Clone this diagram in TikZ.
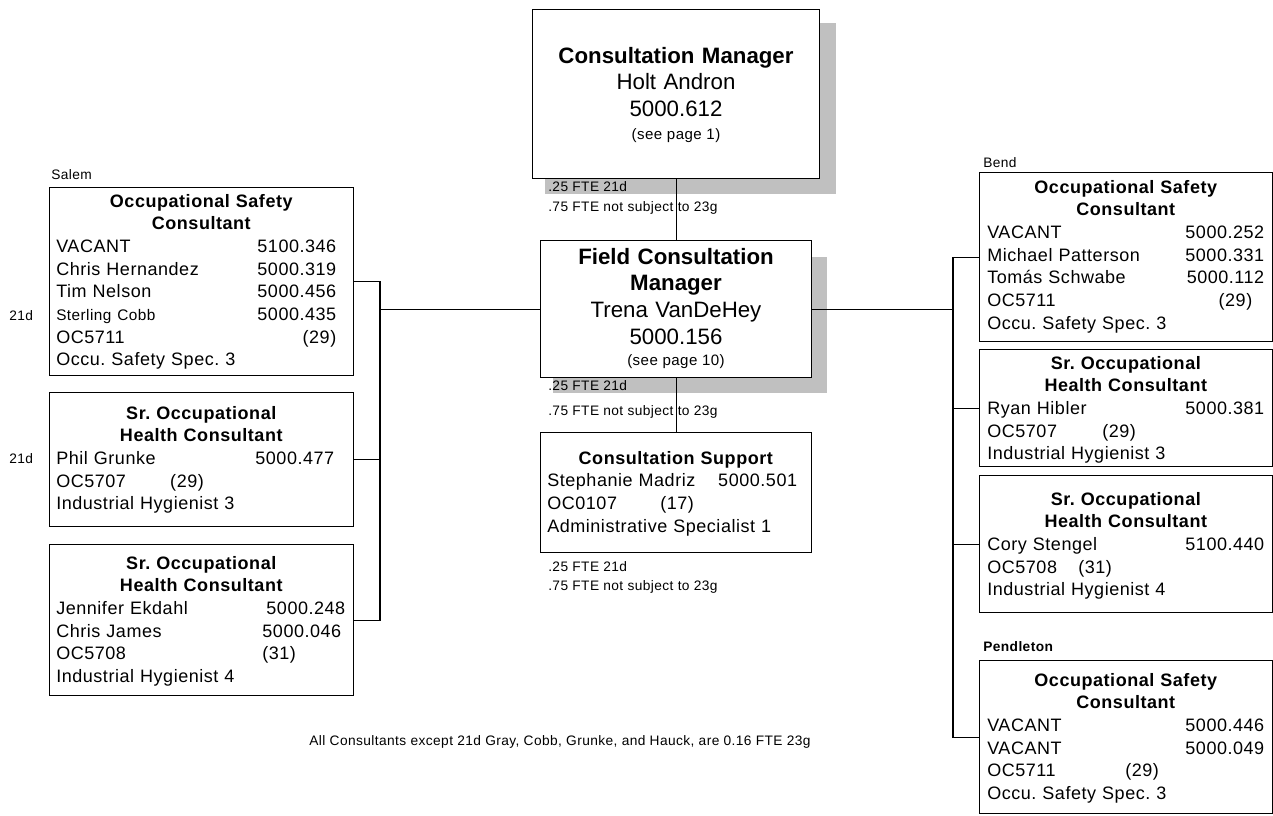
\documentclass[tikz,border=0pt]{standalone}
\usepackage{fontspec}
\setmainfont{Liberation Sans}[LetterSpace=3]
\newfontfamily\bigf{Liberation Sans}
\newfontfamily\smallf{Liberation Sans}[LetterSpace=3]
\newdimen\px \px=0.75pt
\newcommand\bodyf{\fontsize{13.5pt}{17pt}\selectfont}
\newcommand\bigsz{\bigf\fontsize{16.7pt}{20.2pt}\selectfont}
\newcommand\smallsz{\smallf\fontsize{10.3pt}{12pt}\selectfont}
\newcommand\pagesz{\smallf\fontsize{11.3pt}{13pt}\selectfont}
\newcommand\ttl[1]{\makebox[\hsize][c]{\bfseries #1}\\}
\newcommand\numrow[3]{#1\hfill #2\kern#3\px\relax}
\newcommand\colrow[3]{\makebox[#1\px][l]{#2}#3}
\definecolor{shade}{RGB}{192,192,192}
\begin{document}
\frenchspacing
\begin{tikzpicture}[x=0.75pt, y=-0.75pt,
  box/.style={draw, line width=1.3\px, fill=white, inner sep=0pt, anchor=north west},
  body/.style={inner sep=0pt, anchor=base west, align=left, font=\bodyf},
  bigtxt/.style={inner sep=0pt, anchor=base, align=center, text width=270\px, font=\bigsz},
  pagetxt/.style={inner sep=0pt, anchor=base, font=\pagesz},
  lbl/.style={inner sep=0pt, anchor=base west, font=\smallsz},
  conn/.style={line width=1.2\px},
  shadow/.style={fill=shade}]
\useasboundingbox (0,0) rectangle (1273,815);

% shadows
\fill[shadow] (545,23) rectangle (836,194);
\fill[shadow] (553,257) rectangle (827,393);

% center column boxes
\node[box, minimum width=287\px, minimum height=169\px] (T) at (532,9) {};
\node[box, minimum width=271\px, minimum height=137\px] (F) at (540,240) {};
\node[box, minimum width=271\px, minimum height=120\px] (S) at (540,432) {};

% left boxes
\node[box, minimum width=304\px, minimum height=188\px] (L1) at (49,187) {};
\node[box, minimum width=304\px, minimum height=134\px] (L2) at (49,392) {};
\node[box, minimum width=304\px, minimum height=151\px] (L3) at (49,544) {};

% right boxes
\node[box, minimum width=293\px, minimum height=169\px] (R1) at (979,172) {};
\node[box, minimum width=293\px, minimum height=117\px] (R2) at (979,349) {};
\node[box, minimum width=293\px, minimum height=137\px] (R3) at (979,475) {};
\node[box, minimum width=293\px, minimum height=153\px] (R4) at (979,660) {};

% connectors
\coordinate (lx) at (380,308);
\coordinate (rx) at (953,308);
\draw[conn] (T.south) -- (F.north);
\draw[conn] (F.south) -- (S.north);
\draw[conn] (L1.east) -- (L1.east -| lx) -- (L3.east -| lx) -- (L3.east);
\draw[conn] (L2.east) -- (L2.east -| lx);
\draw[conn] (F.west) -- (F.west -| lx);
\draw[conn] (F.east) -- (F.east -| rx);
\draw[conn] (R1.west) -- (R1.west -| rx) -- (R4.west -| rx) -- (R4.west);
\draw[conn] (R2.west) -- (R2.west -| rx);
\draw[conn] (R3.west) -- (R3.west -| rx);

% center texts
\node[bigtxt] (Tt) at (676,63) {\textbf{Consultation Manager}\\Holt Andron\\5000.612};
\node[pagetxt] (Tp) at (676,139) {(see page 1)};
\node[lbl] (Tl1) at (548,191.5) {.25 FTE 21d};
\node[lbl] (Tl2) at (548,211.5) {.75 FTE not subject to 23g};

\node[bigtxt] (Ft) at (676,264) {\textbf{Field Consultation}\\\textbf{Manager}\\Trena VanDeHey\\5000.156};
\node[pagetxt] (Fp) at (676,365.5) {(see page 10)};
\node[lbl] (Fl1) at (548,390.5) {.25 FTE 21d};
\node[lbl] (Fl2) at (548,415.5) {.75 FTE not subject to 23g};

\node[body, text width=257\px] (St) at (547,464) {\ttl{Consultation Support}\colrow{171}{Stephanie Madriz}{5000.501}\\\colrow{113}{OC0107}{(17)}\\Administrative Specialist 1};
\node[lbl] (Sl1) at (548,571.5) {.25 FTE 21d};
\node[lbl] (Sl2) at (548,590.5) {.75 FTE not subject to 23g};

% left texts
\node[lbl] (salem) at (51,179.5) {Salem};
\node[body, text width=290\px] (L1t) at (56,207) {\ttl{Occupational Safety}\ttl{Consultant}\numrow{VACANT}{5100.346}{10}\\\numrow{Chris Hernandez}{5000.319}{10}\\\numrow{Tim Nelson}{5000.456}{10}\\\numrow{{\fontsize{11.5pt}{17pt}\selectfont Sterling Cobb}}{5000.435}{10}\\\numrow{OC5711}{(29)}{10}\\Occu. Safety Spec. 3};
\node[lbl] (d1) at (9,320) {21d};
\node[body, text width=290\px] (L2t) at (56,419) {\ttl{Sr. Occupational}\ttl{Health Consultant}\numrow{Phil Grunke}{5000.477}{12}\\\colrow{114}{OC5707}{(29)}\\Industrial Hygienist 3};
\node[lbl] (d2) at (9,463.5) {21d};
\node[body, text width=290\px] (L3t) at (56,569) {\ttl{Sr. Occupational}\ttl{Health Consultant}\numrow{Jennifer Ekdahl}{5000.248}{1}\\\numrow{Chris James}{5000.046}{5}\\\colrow{206}{OC5708}{(31)}\\Industrial Hygienist 4};

% right texts
\node[lbl] (bend) at (983,167.5) {Bend};
\node[body, text width=277\px] (R1t) at (987,193) {\ttl{Occupational Safety}\ttl{Consultant}\numrow{VACANT}{5000.252}{0}\\\numrow{Michael Patterson}{5000.331}{0}\\\numrow{Tomás Schwabe}{5000.112}{0}\\\numrow{OC5711}{(29)}{12}\\Occu. Safety Spec. 3};
\node[body, text width=277\px] (R2t) at (987,369) {\ttl{Sr. Occupational}\ttl{Health Consultant}\numrow{Ryan Hibler}{5000.381}{0}\\\colrow{115}{OC5707}{(29)}\\Industrial Hygienist 3};
\node[body, text width=277\px] (R3t) at (987,505) {\ttl{Sr. Occupational}\ttl{Health Consultant}\numrow{Cory Stengel}{5100.440}{0}\\\colrow{91}{OC5708}{(31)}\\Industrial Hygienist 4};
\node[lbl, font=\smallsz\bfseries] (pend) at (983,651.5) {Pendleton};
\node[body, text width=277\px] (R4t) at (987,686) {\ttl{Occupational Safety}\ttl{Consultant}\numrow{VACANT}{5000.446}{0}\\\numrow{VACANT}{5000.049}{0}\\\colrow{138}{OC5711}{(29)}\\Occu. Safety Spec. 3};

% note
\node[lbl, anchor=base] (note) at (560,745.5) {All Consultants except 21d Gray, Cobb, Grunke, and Hauck, are 0.16 FTE 23g};
\end{tikzpicture}
\end{document}
